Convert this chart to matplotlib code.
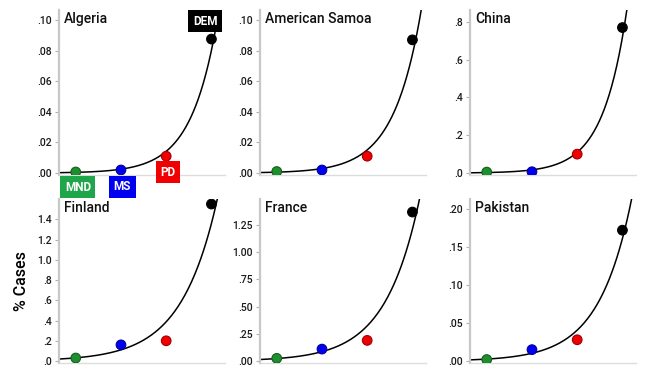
import matplotlib
matplotlib.use("Agg")
import matplotlib.pyplot as plt
import numpy as np

plt.rcParams['font.family'] = ['Roboto', 'DejaVu Sans']

# groups along x, in order
groups = ["MND", "MS", "PD", "DEM"]
group_colors = ["#1e8f2e", "#0000f0", "#f00000", "#000000"]
label_colors = ["#1fa64a", "#0000f0", "#f00000", "#000000"]

countries = ["Algeria", "American Samoa", "China", "Finland", "France", "Pakistan"]

algeria = [0.0007, 0.002, 0.011, 0.0875]
american_samoa = [0.001, 0.002, 0.011, 0.087]
china = [0.005, 0.007, 0.10, 0.77]
finland = [0.03, 0.16, 0.20, 1.55]
france = [0.025, 0.11, 0.19, 1.37]
pakistan = [0.002, 0.015, 0.028, 0.172]
values = [algeria, american_samoa, china, finland, france, pakistan]

yticks = [
    [0, .02, .04, .06, .08, .10],
    [0, .02, .04, .06, .08, .10],
    [0, .2, .4, .6, .8],
    [0, .2, .4, .6, .8, 1.0, 1.2, 1.4],
    [0, .25, .5, .75, 1.0, 1.25],
    [0, .05, .10, .15, .20],
]
ytick_labels = [
    [".00", ".02", ".04", ".06", ".08", ".10"],
    [".00", ".02", ".04", ".06", ".08", ".10"],
    [".0", ".2", ".4", ".6", ".8"],
    [".0", ".2", ".4", ".6", ".8", "1.0", "1.2", "1.4"],
    [".00", ".25", ".50", ".75", "1.00", "1.25"],
    [".00", ".05", ".10", ".15", ".20"],
]
ytops = [0.1065, 0.1065, 0.863, 1.6, 1.49, 0.213]


def exp_fit(x, y, power=1.6, n_iter=60):
    # log-link fit with variance ~ mu**power (IRLS), started from the log-linear fit
    b, a = np.polyfit(x, np.log(y), 1)
    X = np.column_stack([np.ones_like(x, dtype=float), x])
    beta = np.array([a, b])
    for _ in range(n_iter):
        eta = X @ beta
        mu = np.exp(eta)
        z = eta + (y - mu) / mu
        w = mu ** (2 - power)
        WX = X * w[:, None]
        beta = np.linalg.solve(X.T @ WX, WX.T @ z)
    return beta


W, H = 658, 371
fig = plt.figure(figsize=(W / 100, H / 100), dpi=100)

lefts = [59, 260, 470]
rows = [(10, 175), (199, 363)]
width = 166

x = np.arange(1, 5)
xlim = (0.63, 4.3)

for i, name in enumerate(countries):
    r, c = divmod(i, 3)
    top, bot = rows[r]
    ax = fig.add_axes([lefts[c] / W, (H - bot) / H, width / W, (bot - top) / H])
    y = np.array(values[i])
    a, b = exp_fit(x, y)
    xs = np.linspace(xlim[0], xlim[1], 200)
    ys = np.exp(a + b * xs)
    ax.plot(xs, ys, color="black", lw=1.1, zorder=2)
    ax.scatter(x, y, c=group_colors, s=48, edgecolors=["#145e1e", "#00009a", "#a00000", "#000000"],
               linewidths=0.8, zorder=3)

    ymin = -ytops[i] * 0.012
    ax.set_xlim(*xlim)
    ax.set_ylim(ymin, ytops[i])
    ax.set_yticks(yticks[i])
    ax.set_yticklabels(ytick_labels[i])
    ax.set_xticks([])
    for s in ["top", "right"]:
        ax.spines[s].set_visible(False)
    ax.spines["left"].set_color("#c8c8c8")
    ax.spines["left"].set_linewidth(1.6)
    ax.spines["bottom"].set_color("#dddddd")
    ax.spines["bottom"].set_linewidth(1.0)
    ax.tick_params(axis="y", length=3, width=0.8, color="#b0b0b0", labelsize=7.5, pad=2, labelcolor="#1a1a1a")
    for lab in ax.get_yticklabels():
        lab.set_fontweight("medium")
    ax.text(0.03, 0.985, name, transform=ax.transAxes, ha="left", va="top", fontsize=10,
            fontweight="medium", color="#111111")

    if name == "Algeria":
        offsets = [(1.5, -11), (1, -12), (1, -11.5), (-4.5, 13)]
        for g, (gx, gy), col, off in zip(groups, zip(x, y), label_colors, offsets):
            ax.annotate(g, (gx, gy), xytext=off, textcoords="offset points", ha="center", va="center",
                        fontsize=8.5, fontweight="bold", color="white", annotation_clip=False,
                        bbox=dict(boxstyle="square,pad=0.38", fc=col, ec="none"), zorder=5)

    if r == 1 and c == 0:
        ax.set_ylabel("% Cases", fontsize=11.5, fontweight="medium", labelpad=6)

fig.savefig("out.png", dpi=100)
